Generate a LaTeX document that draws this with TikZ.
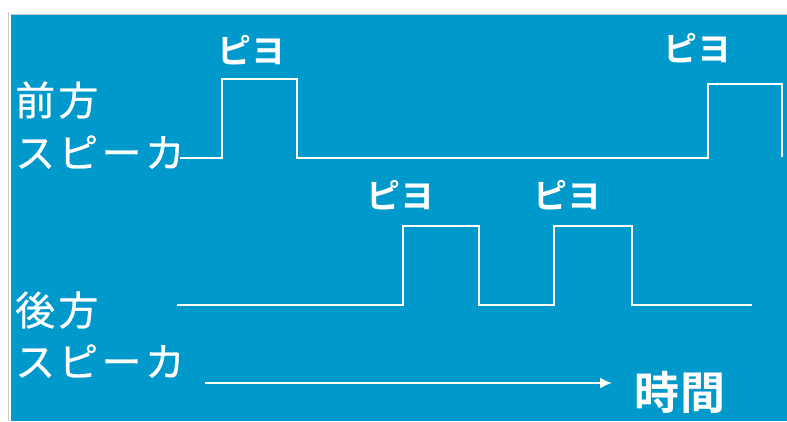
\documentclass[tikz,border=0pt]{standalone}
\usepackage{fontspec}
\usetikzlibrary{arrows.meta}
\newfontfamily\jp[FakeBold=0.6,LetterSpace=8]{Noto Sans CJK JP}
\newfontfamily\jpb{Noto Sans CJK JP Bold}
\newfontfamily\jpt[LetterSpace=4]{Noto Sans CJK JP Bold}
\definecolor{bg}{RGB}{0,153,204}
\definecolor{edge}{RGB}{200,200,200}
\begin{document}
\begin{tikzpicture}[x=1pt,y=-1pt,
  wave/.style={white,line width=2pt,line join=miter},
  lbl/.style={white,inner sep=0pt,font=\jp\fontsize{40}{40}\selectfont,anchor=west},
  piyo/.style={white,inner sep=0pt,font=\jpb\fontsize{34}{34}\selectfont},
  timelbl/.style={white,inner sep=0pt,font=\jpt\fontsize{45}{45}\selectfont}]
\useasboundingbox (0,0) rectangle (787,421);
\fill[white] (0,0) rectangle (787,421);
\fill[bg] (11,15) rectangle (787,421);
\draw[edge,line width=1pt] (8.5,12) -- (8.5,421);
\draw[edge,line width=1pt] (11,14.5) -- (787,14.5);
% labels
\node[lbl] (f1) at (15,100) {前方};
\node[lbl] (f2) at (15,152) {スピーカ};
\node[lbl] (r1) at (15,310) {後方};
\node[lbl] (r2) at (15,361) {スピーカ};
\node[piyo] (p1) at (251,50) {ピヨ};
\node[piyo] (p2) at (697,48) {ピヨ};
\node[piyo] (p3) at (400,195) {ピヨ};
\node[piyo] (p4) at (567,195) {ピヨ};
\node[timelbl] (t) at (680,392) {時間};
% front waveform
\draw[wave] (180,158) -- (222,158) -- (222,79) -- (297,79) -- (297,158)
  -- (708,158) -- (708,84) -- (782,84) -- (782,157);
% rear waveform
\draw[wave] (177,305) -- (403,305) -- (403,226) -- (479,226) -- (479,305)
  -- (554,305) -- (554,226) -- (632,226) -- (632,305) -- (752,305);
% time arrow
\coordinate (a0) at (205,383);
\coordinate (a1) at (612,383);
\draw[white,line width=2pt,-{Latex[length=12pt,width=11pt]}] (a0) -- (a1);
\end{tikzpicture}
\end{document}
